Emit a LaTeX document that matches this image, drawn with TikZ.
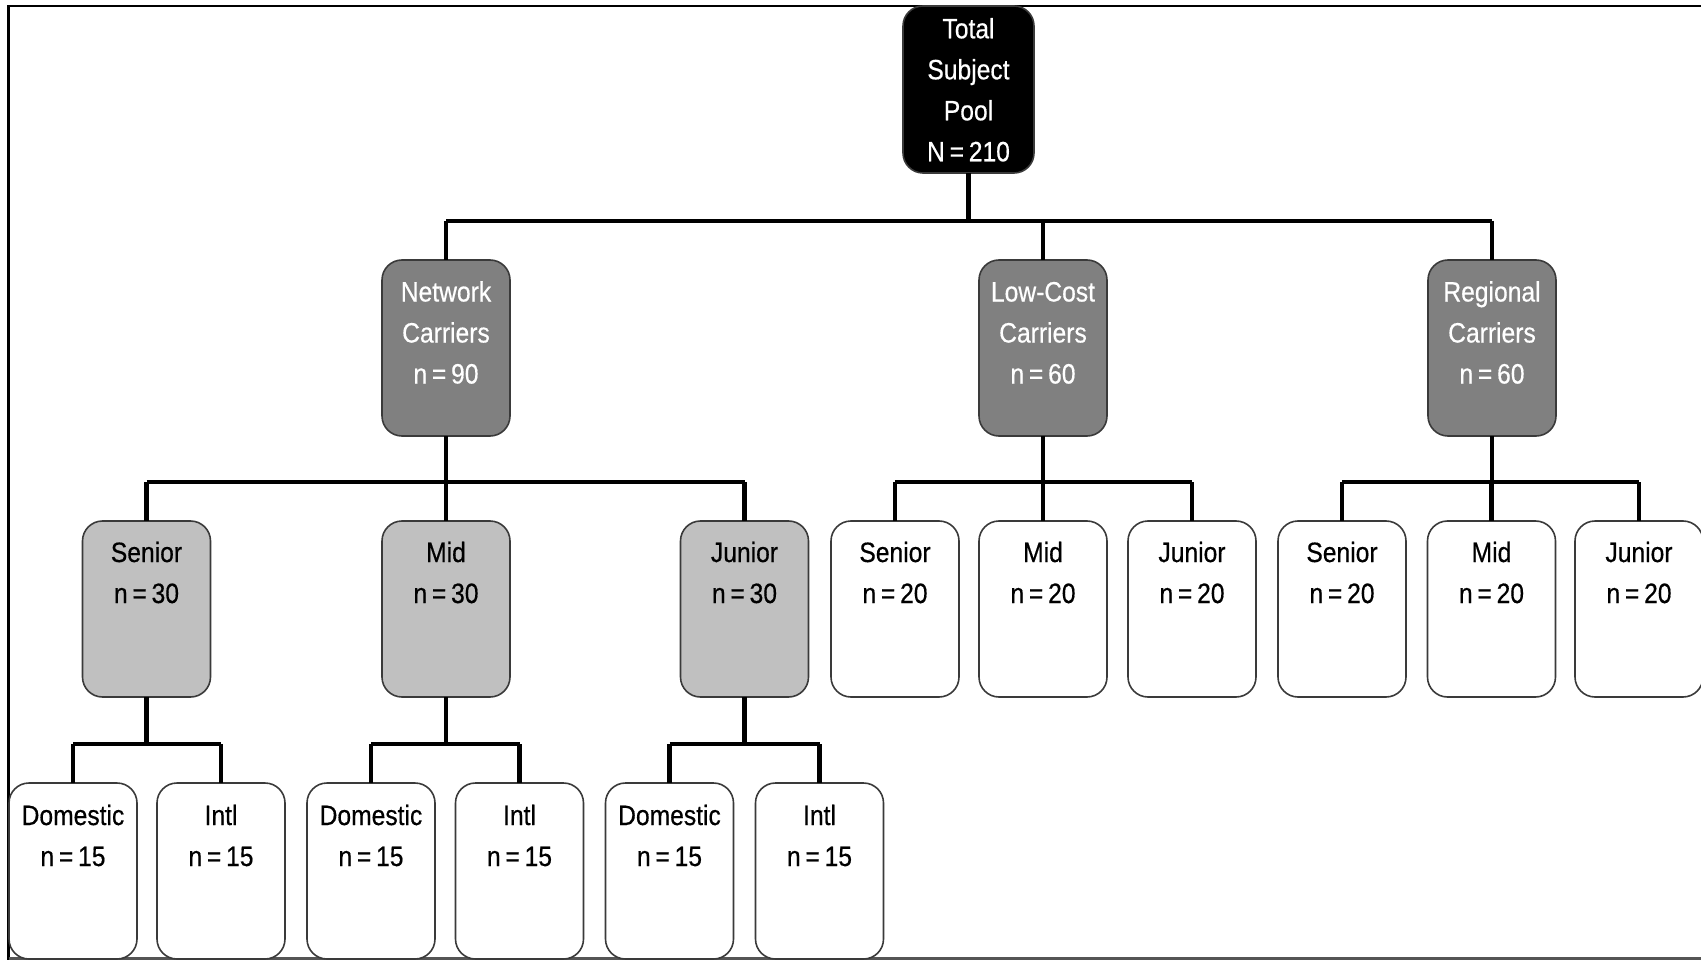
\documentclass[tikz,border=0pt]{standalone}
\usepackage{fontspec}
\setmainfont{Liberation Sans}[FakeStretch=0.88, FakeBold=0.5, WordSpace=0.7]
\definecolor{boxline}{HTML}{3A3A3A}
\definecolor{midgray}{HTML}{808080}
\definecolor{lightgrayb}{HTML}{C0C0C0}
\definecolor{framegray}{HTML}{555555}
\newcommand{\bxt}[4]{\parbox[c][#1][t]{#2}{\centering\rule{0pt}{#3}#4}}
\begin{document}
\begin{tikzpicture}[x=1pt,y=-1pt,
  font=\fontsize{28}{41}\selectfont,
  base/.style={draw=boxline, line width=1.6pt, rounded corners=20pt, inner sep=0pt, outer sep=0pt},
  rootbox/.style={base, fill=black, text=white},
  carrier/.style={base, fill=midgray, text=white},
  rankgray/.style={base, fill=lightgrayb},
  plainbox/.style={base, fill=white},
  conn/.style={line width=4.5pt, black, line join=miter},
  frameline/.style={line width=2.5pt, black}
]
\useasboundingbox (0,0) rectangle (1701,960);
% frame
\draw[frameline] (1701,6) -- (8.5,6) -- (8.5,960);
\draw[line width=2.5pt, framegray] (8.5,958.5) -- (1701,958.5);

% bus levels
\coordinate (busA) at (0,221);
\coordinate (busB) at (0,482);
\coordinate (busC) at (0,744);

% root
\node[rootbox] (root) at (968.5,89.5) {\bxt{167pt}{131pt}{32.3pt}{Total\\Subject\\Pool\\N = 210}};

% level 2
\node[carrier] (net) at (446,348) {\bxt{176pt}{128pt}{41.5pt}{Network\\Carriers\\n = 90}};
\node[carrier] (lcc) at (1043,348) {\bxt{176pt}{128pt}{41.5pt}{Low-Cost\\Carriers\\n = 60}};
\node[carrier] (reg) at (1492,348) {\bxt{176pt}{128pt}{41.5pt}{Regional\\Carriers\\n = 60}};

% level 3
\node[rankgray] (nsen) at (146.5,609) {\bxt{176pt}{128pt}{41pt}{Senior\\n = 30}};
\node[rankgray] (nmid) at (446,609) {\bxt{176pt}{128pt}{41pt}{Mid\\n = 30}};
\node[rankgray] (njun) at (744.5,609) {\bxt{176pt}{128pt}{41pt}{Junior\\n = 30}};
\node[plainbox] (lsen) at (895,609) {\bxt{176pt}{128pt}{41pt}{Senior\\n = 20}};
\node[plainbox] (lmid) at (1043,609) {\bxt{176pt}{128pt}{41pt}{Mid\\n = 20}};
\node[plainbox] (ljun) at (1192,609) {\bxt{176pt}{128pt}{41pt}{Junior\\n = 20}};
\node[plainbox] (rsen) at (1342,609) {\bxt{176pt}{128pt}{41pt}{Senior\\n = 20}};
\node[plainbox] (rmid) at (1491.5,609) {\bxt{176pt}{128pt}{41pt}{Mid\\n = 20}};
\node[plainbox] (rjun) at (1639,609) {\bxt{176pt}{128pt}{41pt}{Junior\\n = 20}};

% level 4
\node[plainbox] (sdom) at (73,871) {\bxt{176pt}{128pt}{42pt}{Domestic\\n = 15}};
\node[plainbox] (sint) at (221,871) {\bxt{176pt}{128pt}{42pt}{Intl\\n = 15}};
\node[plainbox] (mdom) at (371,871) {\bxt{176pt}{128pt}{42pt}{Domestic\\n = 15}};
\node[plainbox] (mint) at (519.5,871) {\bxt{176pt}{128pt}{42pt}{Intl\\n = 15}};
\node[plainbox] (jdom) at (669.5,871) {\bxt{176pt}{128pt}{42pt}{Domestic\\n = 15}};
\node[plainbox] (jint) at (819.5,871) {\bxt{176pt}{128pt}{42pt}{Intl\\n = 15}};

% connectors root -> carriers
\draw[conn] (root.south) -- (root.south |- busA);
\draw[conn] (net.north |- busA) -- (reg.north |- busA);
\foreach \c in {net,lcc,reg} \draw[conn] (\c.north |- busA) -- (\c.north);

% carriers -> ranks
\draw[conn] (net.south) -- (net.south |- busB);
\draw[conn] (nsen.north |- busB) -- (njun.north |- busB);
\foreach \c in {nsen,nmid,njun} \draw[conn] (\c.north |- busB) -- (\c.north);
\draw[conn] (lcc.south) -- (lcc.south |- busB);
\draw[conn] (lsen.north |- busB) -- (ljun.north |- busB);
\foreach \c in {lsen,lmid,ljun} \draw[conn] (\c.north |- busB) -- (\c.north);
\draw[conn] (reg.south) -- (reg.south |- busB);
\draw[conn] (rsen.north |- busB) -- (rjun.north |- busB);
\foreach \c in {rsen,rmid,rjun} \draw[conn] (\c.north |- busB) -- (\c.north);

% ranks -> domestic / intl
\draw[conn] (nsen.south) -- (nsen.south |- busC);
\draw[conn] (sdom.north |- busC) -- (sint.north |- busC);
\foreach \c in {sdom,sint} \draw[conn] (\c.north |- busC) -- (\c.north);
\draw[conn] (nmid.south) -- (nmid.south |- busC);
\draw[conn] (mdom.north |- busC) -- (mint.north |- busC);
\foreach \c in {mdom,mint} \draw[conn] (\c.north |- busC) -- (\c.north);
\draw[conn] (njun.south) -- (njun.south |- busC);
\draw[conn] (jdom.north |- busC) -- (jint.north |- busC);
\foreach \c in {jdom,jint} \draw[conn] (\c.north |- busC) -- (\c.north);
\end{tikzpicture}
\end{document}
